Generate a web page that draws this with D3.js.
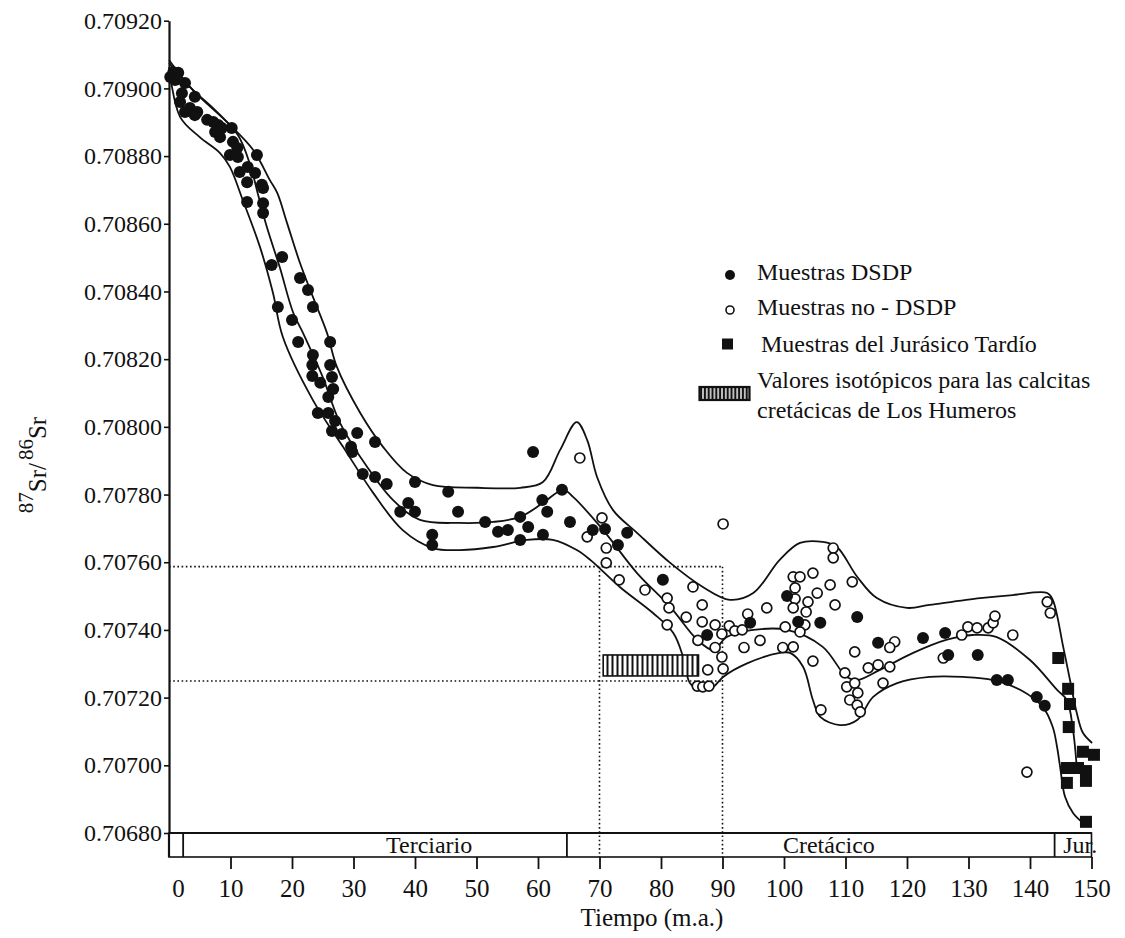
<!DOCTYPE html>
<html><head><meta charset="utf-8">
<script src="https://cdn.jsdelivr.net/npm/d3@7"></script>
<style>
body{margin:0;background:#fff}
svg{display:block}
text{font-family:"Liberation Serif","Times New Roman",serif;fill:#111}
</style>
</head><body>
<svg id="chart" width="1125" height="938"></svg>
<script>
// ---------- DATA (age in m.a., 87Sr/86Sr) ----------
const dsdp = [[0.7,0.709048],[1.5,0.709046],[0.2,0.709034],[1.0,0.709025],[2.6,0.709016],[2.1,0.708986],[4.2,0.708975],[1.8,0.708960],[3.4,0.708942],[2.6,0.708930],[4.6,0.708930],[4.2,0.708921],[6.2,0.708907],[7.2,0.708901],[8.0,0.708892],[8.6,0.708883],[7.5,0.708871],[10.2,0.708883],[8.3,0.708856],[10.4,0.708842],[11.1,0.708824],[9.9,0.708803],[11.2,0.708797],[14.3,0.708803],[12.8,0.708768],[11.5,0.708753],[14.0,0.708750],[12.7,0.708723],[15.1,0.708715],[15.3,0.708706],[12.7,0.708664],[15.3,0.708661],[15.3,0.708632],[18.4,0.708502],[16.7,0.708478],[21.3,0.708440],[22.6,0.708404],[23.4,0.708354],[17.7,0.708354],[20.0,0.708316],[21.0,0.708251],[26.2,0.708251],[23.4,0.708212],[23.3,0.708183],[26.2,0.708183],[23.3,0.708150],[24.6,0.708130],[26.5,0.708147],[26.7,0.708112],[25.9,0.708088],[24.2,0.708041],[25.9,0.708041],[27.0,0.708017],[26.5,0.707988],[28.1,0.707979],[30.6,0.707982],[29.6,0.707941],[29.8,0.707926],[33.5,0.707955],[31.5,0.707861],[33.5,0.707852],[35.4,0.707831],[40.0,0.707837],[38.9,0.707775],[37.6,0.707749],[40.0,0.707749],[45.4,0.707808],[47.0,0.707749],[42.8,0.707681],[42.8,0.707651],[51.4,0.707719],[53.5,0.707690],[55.1,0.707695],[57.1,0.707734],[58.4,0.707704],[57.1,0.707666],[60.7,0.707784],[61.5,0.707749],[60.8,0.707681],[63.9,0.707814],[65.2,0.707719],[59.2,0.707926],[68.9,0.707695],[70.9,0.707698],[74.5,0.707687],[73.0,0.707651],[80.3,0.707548],[87.5,0.707385],[94.5,0.707421],[100.5,0.707500],[102.3,0.707424],[105.9,0.707421],[111.9,0.707438],[115.3,0.707362],[122.6,0.707376],[126.2,0.707391],[126.7,0.707326],[131.5,0.707326],[134.6,0.707252],[136.4,0.707252],[141.1,0.707202],[142.4,0.707176]];

const noDsdp = [[66.8,0.707908],[90.1,0.707713],[70.4,0.707731],[68.0,0.707675],[71.1,0.707642],[71.1,0.707598],[73.2,0.707548],[77.4,0.707518],[81.0,0.707494],[81.3,0.707465],[85.2,0.707527],[86.7,0.707474],[84.1,0.707438],[86.7,0.707424],[88.8,0.707415],[81.0,0.707415],[86.0,0.707369],[88.8,0.707348],[89.9,0.707388],[91.1,0.707412],[92.0,0.707397],[93.2,0.707400],[94.1,0.707447],[97.2,0.707465],[96.1,0.707369],[93.5,0.707348],[99.8,0.707348],[101.5,0.707350],[89.9,0.707320],[90.1,0.707285],[87.6,0.707282],[85.9,0.707234],[86.8,0.707232],[87.8,0.707234],[104.7,0.707308],[101.5,0.707557],[102.6,0.707557],[104.7,0.707568],[101.8,0.707524],[105.4,0.707509],[101.8,0.707492],[103.9,0.707483],[103.6,0.707453],[101.5,0.707465],[103.4,0.707415],[102.6,0.707394],[100.2,0.707409],[108.0,0.707642],[108.0,0.707613],[107.5,0.707533],[111.1,0.707542],[108.3,0.707474],[106.0,0.707164],[111.5,0.707335],[118.0,0.707365],[117.2,0.707348],[109.9,0.707273],[113.7,0.707288],[115.3,0.707297],[117.2,0.707291],[110.2,0.707232],[111.5,0.707243],[116.1,0.707243],[112.0,0.707214],[110.7,0.707193],[111.9,0.707178],[112.4,0.707158],[125.9,0.707317],[128.9,0.707385],[129.9,0.707409],[131.4,0.707406],[133.2,0.707406],[134.0,0.707421],[134.3,0.707441],[137.2,0.707385],[142.8,0.707483],[143.3,0.707450],[139.5,0.706980]];

const jurasico = [[144.6,0.707317],[146.2,0.707226],[146.5,0.707181],[146.3,0.707113],[148.6,0.707040],[150.4,0.707031],[146.0,0.706992],[147.8,0.706992],[149.1,0.706983],[146.0,0.706948],[149.1,0.706954],[149.1,0.706833]];

const upperEnvelope = [[0,0.709084],[3.9,0.708995],[9.4,0.708901],[13.7,0.708818],[16.4,0.708729],[17.6,0.708691],[19.2,0.708602],[21.3,0.708484],[23.4,0.708384],[25.7,0.708277],[27.3,0.708177],[31.1,0.708041],[34.8,0.707941],[38.7,0.707864],[42.9,0.707828],[50.1,0.707820],[57.1,0.707820],[60.8,0.707837],[63.6,0.707932],[66.3,0.708014],[68.0,0.707961],[69.6,0.707852],[72.2,0.707754],[76.1,0.707687],[81.5,0.707598],[86.8,0.707527],[91.2,0.707489],[95.0,0.707509],[99.3,0.707607],[102.6,0.707657],[106.3,0.707660],[108.6,0.707645],[111.9,0.707557],[115.1,0.707494],[120.0,0.707465],[123.7,0.707474],[131.9,0.707494],[137.2,0.707503],[142.8,0.707509],[143.7,0.707489],[145.4,0.707350],[146.5,0.707252],[147.6,0.707155],[148.6,0.707096],[150.1,0.707066]];

const meanCurve = [[0,0.709075],[3.4,0.709004],[7.5,0.708936],[11.2,0.708862],[13.2,0.708774],[14.5,0.708685],[15.9,0.708591],[18.0,0.708472],[20.2,0.708337],[21.8,0.708277],[25.0,0.708147],[27.8,0.708012],[32.2,0.707882],[36.4,0.707784],[40.8,0.707725],[47.3,0.707716],[52.7,0.707719],[57.1,0.707734],[60.8,0.707775],[64.1,0.707814],[65.7,0.707793],[70.6,0.707695],[76.1,0.707568],[81.5,0.707468],[85.9,0.707371],[88.5,0.707341],[90.7,0.707379],[95.0,0.707400],[100.5,0.707400],[106.3,0.707350],[110.2,0.707261],[111.9,0.707252],[115.6,0.707282],[121.0,0.707332],[126.5,0.707371],[130.7,0.707385],[134.6,0.707379],[140.0,0.707311],[144.4,0.707223],[146.0,0.707193],[147.0,0.707104],[147.6,0.706995]];

const lowerEnvelope = [[0,0.709063],[1.8,0.708916],[5.0,0.708856],[8.3,0.708809],[9.9,0.708768],[12.0,0.708670],[14.8,0.708531],[16.9,0.708396],[18.5,0.708266],[23.4,0.708079],[28.3,0.707941],[33.2,0.707805],[38.0,0.707695],[42.9,0.707642],[47.3,0.707636],[52.7,0.707645],[58.2,0.707666],[62.4,0.707666],[66.3,0.707636],[68.5,0.707607],[73.3,0.707527],[78.7,0.707450],[82.0,0.707391],[83.6,0.707320],[84.7,0.707243],[86.3,0.707223],[88.5,0.707232],[90.1,0.707261],[94.0,0.707301],[99.3,0.707332],[101.0,0.707332],[103.1,0.707291],[104.7,0.707193],[105.9,0.707143],[109.1,0.707119],[111.9,0.707134],[114.5,0.707202],[118.4,0.707243],[123.7,0.707261],[129.1,0.707261],[134.0,0.707252],[138.4,0.707223],[142.1,0.707172],[143.7,0.707113],[144.4,0.707054],[144.9,0.706995],[145.7,0.706907],[147.0,0.706859],[148.6,0.706830]];

const humerosAge = [70.6, 86.1];
const humerosRatio = [0.707264, 0.707326];
const refRatios = [0.707587, 0.707249];
const refAges = [70, 90];

const yTicks = [0.70680,0.70700,0.70720,0.70740,0.70760,0.70780,0.70800,0.70820,0.70840,0.70860,0.70880,0.70900,0.70920];
const xTicks = [0,10,20,30,40,50,60,70,80,90,100,110,120,130,140,150];
const periodNames = ["", "Terciario", "Cretácico", "Jur."];
const periodBounds = [0, 2.3, 64.7, 144, 150];
const periodLabelAt = [null, 42.3, 107.3, 145.4];
const periodLabelAnchor = ["middle","middle","middle","start"];

const legendLabels = ["Muestras DSDP","Muestras no - DSDP","Muestras del Jurásico Tardío",["Valores isotópicos para las calcitas","cretácicas de Los Humeros"]];

// ---------- LAYOUT ----------
const svg = d3.select("#chart");
const x = d3.scaleLinear().domain([0,150]).range([169,1091.5]);
const y = d3.scaleLinear().domain([0.7068,0.7092]).range([833,20.7]);
const barBottom = 857;
const ink = "#111";

const defs = svg.append("defs");
const pat = defs.append("pattern").attr("id","hatch").attr("patternUnits","userSpaceOnUse")
  .attr("width",5).attr("height",20);
pat.append("rect").attr("width",5).attr("height",20).attr("fill","#fff");
pat.append("line").attr("x1",2.5).attr("x2",2.5).attr("y1",0).attr("y2",20).attr("stroke",ink).attr("stroke-width",2);
const pat2 = defs.append("pattern").attr("id","hatchL").attr("patternUnits","userSpaceOnUse")
  .attr("width",3.8).attr("height",20);
pat2.append("rect").attr("width",3.8).attr("height",20).attr("fill","#fff");
pat2.append("line").attr("x1",1.9).attr("x2",1.9).attr("y1",0).attr("y2",20).attr("stroke",ink).attr("stroke-width",2.4);

// reference dotted lines
const dot = svg.append("g").attr("stroke",ink).attr("stroke-width",1.6).attr("stroke-dasharray","1.6,2.6").attr("fill","none");
refRatios.forEach(r => dot.append("line").attr("x1",x(0)).attr("x2",x(refAges[1])).attr("y1",y(r)).attr("y2",y(r)));
refAges.forEach(a => dot.append("line").attr("x1",x(a)).attr("x2",x(a)).attr("y1",y(refRatios[0])).attr("y2",barBottom));

// curves
const line = d3.line().x(d=>x(d[0])).y(d=>y(d[1])).curve(d3.curveCatmullRom.alpha(0.5));
[upperEnvelope, meanCurve, lowerEnvelope].forEach(c =>
  svg.append("path").attr("d", line(c)).attr("fill","none").attr("stroke",ink).attr("stroke-width",1.8));

// hatched box
svg.append("rect").attr("x",x(humerosAge[0])).attr("y",y(humerosRatio[1]))
  .attr("width",x(humerosAge[1])-x(humerosAge[0])).attr("height",y(humerosRatio[0])-y(humerosRatio[1]))
  .attr("fill","url(#hatch)").attr("stroke",ink).attr("stroke-width",1.6);

// points
svg.append("g").selectAll("circle").data(noDsdp).join("circle")
  .attr("cx",d=>x(d[0])).attr("cy",d=>y(d[1])).attr("r",5)
  .attr("fill","#fff").attr("stroke",ink).attr("stroke-width",1.7);
svg.append("g").selectAll("circle").data(dsdp).join("circle")
  .attr("cx",d=>x(d[0])).attr("cy",d=>y(d[1])).attr("r",6).attr("fill",ink);
svg.append("g").selectAll("rect").data(jurasico).join("rect")
  .attr("x",d=>x(d[0])-6).attr("y",d=>y(d[1])-6).attr("width",12).attr("height",12).attr("fill",ink);

// period bar
const bar = svg.append("g");
bar.append("rect").attr("x",x(0)).attr("y",y(0.7068)).attr("width",x(150)-x(0)).attr("height",barBottom-y(0.7068))
  .attr("fill","none").attr("stroke",ink).attr("stroke-width",1.6);
bar.append("line").attr("x1",x(0)).attr("x2",x(150)).attr("y1",y(0.7068)).attr("y2",y(0.7068)).attr("stroke",ink).attr("stroke-width",2.2);
periodBounds.slice(1,-1).forEach(b => bar.append("line").attr("x1",x(b)).attr("x2",x(b))
  .attr("y1",y(0.7068)).attr("y2",barBottom).attr("stroke",ink).attr("stroke-width",1.8));
periodNames.forEach((n,i) => { if(!n) return;
  bar.append("text").attr("x",x(periodLabelAt[i])).attr("y",853).attr("text-anchor",periodLabelAnchor[i])
    .attr("font-size",24).text(n); });

// axes
const yAxis = svg.append("g").attr("transform",`translate(${x(0)},0)`)
  .call(d3.axisLeft(y).tickValues(yTicks).tickFormat(d3.format(".5f")).tickSize(5).tickPadding(2).tickSizeOuter(0));
yAxis.attr("font-family",null).attr("font-size",null);
yAxis.selectAll("text").attr("font-size",24).attr("fill",ink);
yAxis.selectAll("line").attr("stroke",ink).attr("stroke-width",1.6);
yAxis.select(".domain").attr("stroke",ink).attr("stroke-width",2.2);
svg.append("line").attr("x1",x(0)).attr("x2",x(0)).attr("y1",y(0.7068)).attr("y2",barBottom).attr("stroke",ink).attr("stroke-width",2.2);

const xAxis = svg.append("g").attr("transform",`translate(0,${barBottom})`)
  .call(d3.axisBottom(x).tickValues(xTicks).tickFormat(d3.format("d")).tickSize(12).tickPadding(10));
xAxis.attr("font-family",null).attr("font-size",null);
xAxis.select(".domain").remove();
xAxis.selectAll("text").attr("font-size",25).attr("fill",ink);
xAxis.selectAll("line").attr("stroke",ink).attr("stroke-width",1.8);
xAxis.selectAll(".tick").filter(d=>d===0).each(function(){
  d3.select(this).select("line").remove();
  d3.select(this).select("text").attr("x",9);
});

// axis titles
svg.append("text").attr("x",652).attr("y",926).attr("text-anchor","middle").attr("font-size",25).text("Tiempo (m.a.)");
const yt = svg.append("text").attr("transform","translate(46,465) rotate(-90)").attr("text-anchor","middle").attr("font-size",25);
yt.append("tspan").attr("font-size",21).attr("dy",-13).text("87");
yt.append("tspan").attr("dy",13).text("Sr/");
yt.append("tspan").attr("font-size",21).attr("dy",-13).attr("dx",3).text("86");
yt.append("tspan").attr("dy",13).text("Sr");

// legend
const lg = svg.append("g");
lg.append("circle").attr("cx",730).attr("cy",275).attr("r",5).attr("fill",ink);
lg.append("circle").attr("cx",730).attr("cy",310).attr("r",4).attr("fill","#fff").attr("stroke",ink).attr("stroke-width",1.6);
lg.append("rect").attr("x",722).attr("y",338.5).attr("width",11).attr("height",11).attr("fill",ink);
lg.append("rect").attr("x",699.5).attr("y",387).attr("width",50).attr("height",13).attr("fill","url(#hatchL)").attr("stroke",ink).attr("stroke-width",2.2);
lg.append("text").attr("x",757).attr("y",280).attr("font-size",24).text(legendLabels[0]);
lg.append("text").attr("x",757).attr("y",315).attr("font-size",24).text(legendLabels[1]);
lg.append("text").attr("x",761).attr("y",352).attr("font-size",24).text(legendLabels[2]);
lg.append("text").attr("x",757).attr("y",388).attr("font-size",24).text(legendLabels[3][0]);
lg.append("text").attr("x",757).attr("y",418).attr("font-size",24).text(legendLabels[3][1]);
</script>
</body></html>
